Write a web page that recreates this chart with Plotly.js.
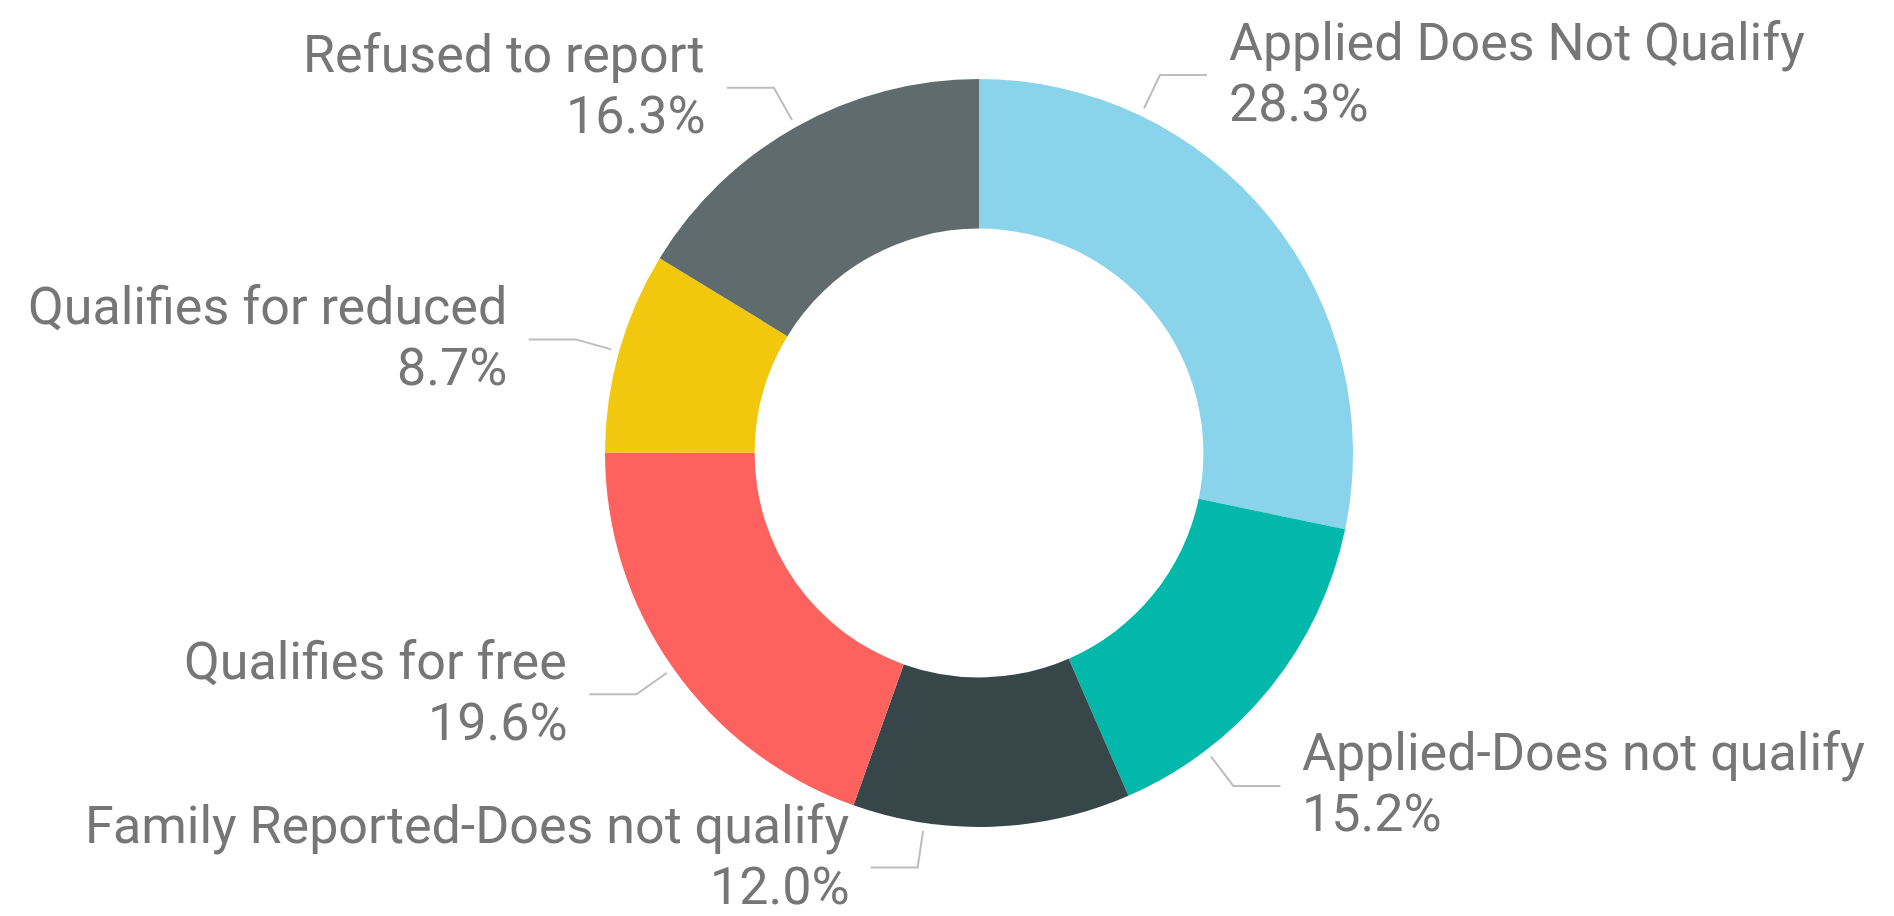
<!DOCTYPE html>
<html>
<head>
<meta charset="utf-8">
<script src="https://cdn.plot.ly/plotly-3.0.1.min.js"></script>
<style>html,body{margin:0;padding:0;background:#fff;}#chart{width:1894px;height:916px;}</style>
</head>
<body>
<div id="chart"></div>
<script>
// ---- data ----
const categories = [
  "Applied Does Not Qualify",
  "Applied-Does not qualify",
  "Family Reported-Does not qualify",
  "Qualifies for free",
  "Qualifies for reduced",
  "Refused to report"
];
const shares = [28.3, 15.2, 12.0, 19.6, 8.7, 16.3];
const sliceColors = ["#8AD4EB", "#01B8AA", "#374649", "#FD625E", "#F2C80F", "#5F6B6D"];

// ---- layout / presentation ----
const W = 1894, H = 916;
const CX = 979, CY = 453, R = 374;      // pie centre and radius in pixels
const HOLE = 0.6;
// label collision shifts (degrees) applied to leader anchor angle
const anchorShift = [-25.3, 13.5, 10.4, 0, 0, 0];
// small vertical nudge of label text (px), keeps the bottom label inside the canvas
const textNudge = [0, 0, -9, 0, 0, 0];
const RADIAL = 37, HORIZ = 47, GAP = 20, ANCHOR_OFF = 8;
const FONT = "Roboto, 'Liberation Sans', sans-serif";
const FSIZE = 52;
const LINE1_DY = -33, LINE2_DY = 28;   // text line centres relative to leader end
const TEXT_COLOR = "#767676";
const LINE_COLOR = "#BDBDBD";

const px2x = p => p / W;
const px2y = p => 1 - p / H;

const total = shares.reduce((a, b) => a + b, 0);
const shapes = [], annotations = [];
let cum = 0;
shares.forEach((v, i) => {
  const mid = (cum + v / 2) / total * 360 + anchorShift[i];
  cum += v;
  const a = mid * Math.PI / 180;
  const dx = Math.sin(a), dy = -Math.cos(a);
  const sx = CX + (R + ANCHOR_OFF) * dx, sy = CY + (R + ANCHOR_OFF) * dy;
  const ex = sx + RADIAL * dx, ey = sy + RADIAL * dy;
  const right = dx >= 0 ? 1 : -1;
  const hx = ex + right * HORIZ, hy = ey;
  shapes.push({
    type: "path", xref: "paper", yref: "paper",
    path: `M ${px2x(sx)} ${px2y(sy)} L ${px2x(ex)} ${px2y(ey)} L ${px2x(hx)} ${px2y(hy)}`,
    line: {color: LINE_COLOR, width: 2}
  });
  const common = {
    xref: "paper", yref: "paper",
    x: px2x(hx + right * GAP),
    xanchor: right > 0 ? "left" : "right", yanchor: "middle",
    align: right > 0 ? "left" : "right",
    showarrow: false,
    font: {family: FONT, size: FSIZE, color: TEXT_COLOR}
  };
  annotations.push(Object.assign({}, common, {y: px2y(hy + LINE1_DY + textNudge[i]), text: categories[i]}));
  annotations.push(Object.assign({}, common, {y: px2y(hy + LINE2_DY + textNudge[i]), text: v.toFixed(1) + "%"}));
});

const data = [{
  type: "pie",
  labels: categories,
  values: shares,
  sort: false,
  direction: "clockwise",
  rotation: 0,
  hole: HOLE,
  textinfo: "none",
  marker: {colors: sliceColors, line: {width: 0}},
  domain: {
    x: [px2x(CX - R), px2x(CX + R)],
    y: [px2y(CY + R), px2y(CY - R)]
  },
  showlegend: false,
  hoverinfo: "label+percent"
}];

const layout = {
  width: W, height: H,
  margin: {l: 0, r: 0, t: 0, b: 0},
  paper_bgcolor: "#ffffff",
  plot_bgcolor: "#ffffff",
  showlegend: false,
  shapes: shapes,
  annotations: annotations
};

Plotly.newPlot("chart", data, layout, {displayModeBar: false, staticPlot: true});
</script>
</body>
</html>
